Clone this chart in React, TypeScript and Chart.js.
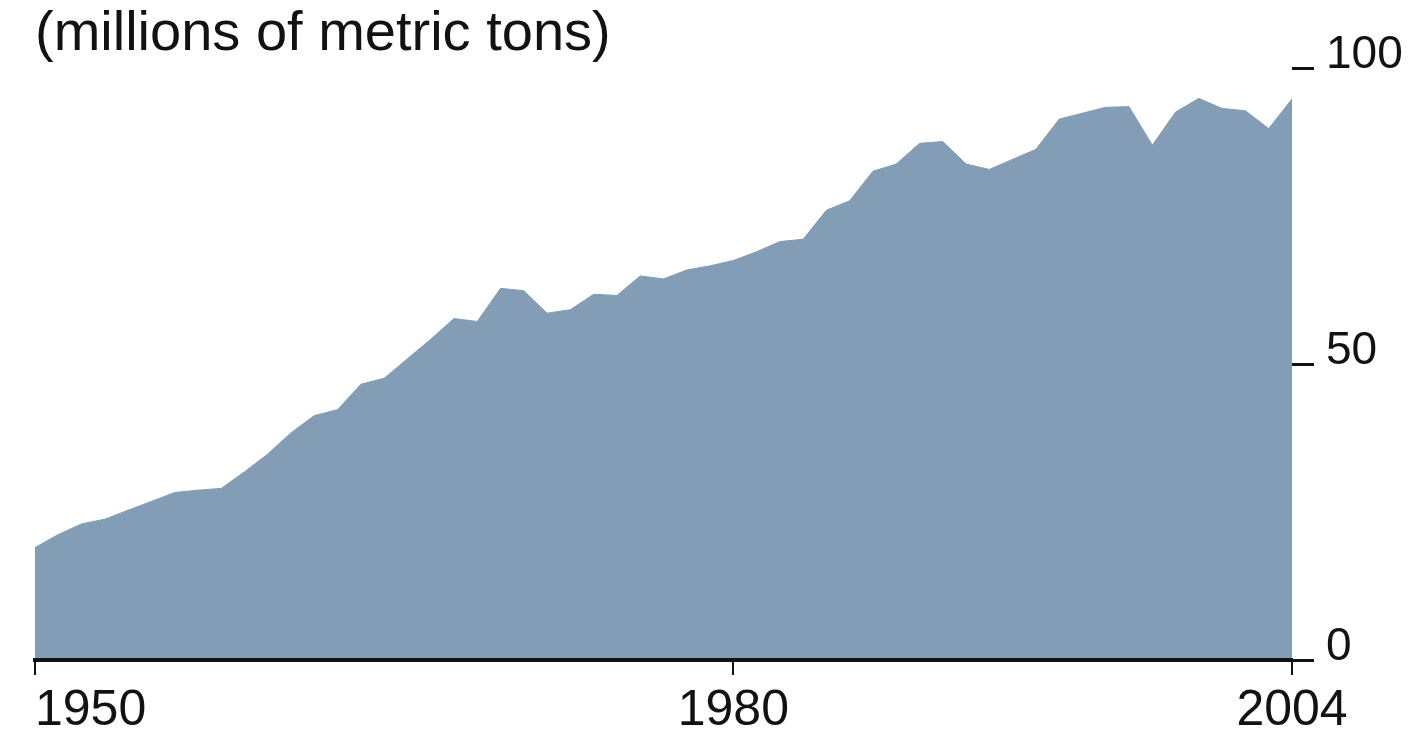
import React, { useEffect, useRef } from "react";
import { Chart, registerables } from "chart.js";

Chart.register(...registerables);

const unitTitle = "(millions of metric tons)";

const years = [
  1950, 1951, 1952, 1953, 1954, 1955, 1956, 1957, 1958, 1959,
  1960, 1961, 1962, 1963, 1964, 1965, 1966, 1967, 1968, 1969,
  1970, 1971, 1972, 1973, 1974, 1975, 1976, 1977, 1978, 1979,
  1980, 1981, 1982, 1983, 1984, 1985, 1986, 1987, 1988, 1989,
  1990, 1991, 1992, 1993, 1994, 1995, 1996, 1997, 1998, 1999,
  2000, 2001, 2002, 2003, 2004,
];

const tonnage = [
  19.0, 21.2, 23.0, 23.8, 25.3, 26.8, 28.3, 28.7, 29.0, 31.8,
  34.8, 38.4, 41.3, 42.3, 46.6, 47.6, 50.9, 54.2, 57.7, 57.2,
  62.8, 62.4, 58.6, 59.2, 61.8, 61.6, 64.9, 64.4, 65.9, 66.6,
  67.5, 69.0, 70.7, 71.1, 76.0, 77.6, 82.6, 83.8, 87.3, 87.6,
  83.8, 82.9, 84.6, 86.3, 91.4, 92.4, 93.4, 93.5, 87.0, 92.6,
  94.9, 93.2, 92.8, 89.8, 94.8,
];

const xTickYears = [1950, 1980, 2004];
const yTickValues = [0, 50, 100];

const FONT = "'Liberation Sans', Arial, Helvetica, sans-serif";
const FILL = "#829db5";
const INK = "#121212";

export default function App() {
  const ref = useRef<HTMLCanvasElement>(null);

  useEffect(() => {
    if (!ref.current) return;
    const chart = new Chart(ref.current, {
      type: "line",
      data: {
        datasets: [
          {
            data: years.map((yr, i) => ({ x: yr, y: tonnage[i] })),
            fill: "origin",
            backgroundColor: FILL,
            borderColor: FILL,
            borderWidth: 1,
            pointRadius: 0,
            tension: 0,
          },
        ],
      },
      options: {
        responsive: false,
        animation: false,
        layout: { padding: { left: 35, right: 0, top: 0, bottom: 0 } },
        plugins: {
          legend: { display: false },
          tooltip: { enabled: false },
          title: {
            display: true,
            text: unitTitle,
            align: "start",
            color: INK,
            font: { family: FONT, size: 56, weight: "normal", lineHeight: 1.2 },
            padding: { top: 1, bottom: 0 },
          },
        },
        scales: {
          x: {
            type: "linear",
            position: "bottom",
            min: 1950,
            max: 2004,
            afterBuildTicks: (s: any) => {
              s.ticks = [...xTickYears, xTickYears[xTickYears.length - 1]].map((v) => ({ value: v }));
            },
            afterFit: (s: any) => {
              s.height = 71;
            },
            grid: {
              drawOnChartArea: false,
              drawTicks: true,
              tickLength: 15,
              color: INK,
              lineWidth: 2,
              z: 1,
            },
            border: { display: true, color: INK, width: 4, z: 2 },
            ticks: {
              align: "inner",
              autoSkip: false,
              maxRotation: 0,
              minRotation: 0,
              padding: 6,
              color: INK,
              font: { family: FONT, size: 50 },
              callback: (v: any, i: number) => (i < xTickYears.length ? String(v) : ""),
            },
          },
          y: {
            position: "right",
            min: 0,
            max: 100,
            afterBuildTicks: (s: any) => {
              s.ticks = yTickValues.map((v) => ({ value: v }));
            },
            afterFit: (s: any) => {
              s.width = 136;
            },
            grid: {
              drawOnChartArea: false,
              drawTicks: true,
              tickLength: 22,
              color: INK,
              lineWidth: 3,
              z: 1,
            },
            border: { display: false },
            ticks: {
              padding: 12,
              labelOffset: -13,
              color: INK,
              font: { family: FONT, size: 46 },
            },
          },
        },
      },
    } as any);
    return () => chart.destroy();
  }, []);

  return (
    <div style={{ position: "fixed", left: 0, top: 0, width: 1428, height: 731, background: "#fff" }}>
      <canvas ref={ref} width={1428} height={731} style={{ display: "block" }} />
    </div>
  );
}
